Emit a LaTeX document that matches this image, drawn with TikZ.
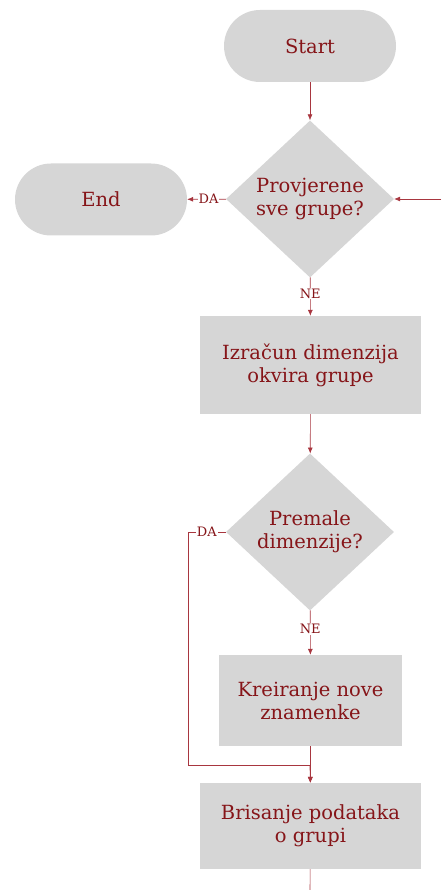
\documentclass[tikz,border=0pt]{standalone}
\usepackage{fontspec}
\setmainfont{DejaVu Serif}
\usetikzlibrary{shapes.geometric,arrows.meta}
\definecolor{boxgray}{HTML}{D6D6D6}
\definecolor{txtred}{HTML}{861519}
\definecolor{linered}{HTML}{A8363F}
\tikzset{
  x=1pt,y=-1pt,
  base/.style={fill=boxgray,draw=none,text=txtred,align=center,font=\fontsize{19.5}{23}\selectfont,inner sep=0pt},
  pill/.style={base,rectangle,rounded corners=36pt,minimum width=172pt,minimum height=72pt},
  procbox/.style={base,rectangle},
  decision/.style={base,diamond,minimum width=168pt,minimum height=157pt},
  conn/.style={draw=linered,line width=0.6pt,-{Latex[length=6pt,width=5pt]}},
  plainconn/.style={draw=linered,line width=0.6pt},
  lbl/.style={fill=white,text=txtred,font=\fontsize{13}{14}\selectfont,inner sep=1pt}
}
\begin{document}
\begin{tikzpicture}
\useasboundingbox (0,0) rectangle (441,890);
\node[pill] (start) at (310,46) {Start};
\node[decision] (d1) at (310,199) {Provjerene\\sve grupe?};
\node[pill] (end) at (101,199.5) {End};
\node[procbox,minimum width=221pt,minimum height=98pt] (b1) at (310.5,365) {Izračun dimenzija\\okvira grupe};
\node[decision] (d2) at (310,532) {Premale\\dimenzije?};
\node[procbox,minimum width=183pt,minimum height=91pt] (b2) at (310.5,700.5) {Kreiranje nove\\znamenke};
\node[procbox,minimum width=221pt,minimum height=86pt] (b3) at (310.5,826) {Brisanje podataka\\o grupi};
\coordinate (rin) at (441,199);
\coordinate (bout) at (310,890);
\coordinate (c1) at (188,532);
\coordinate (c2) at (188,765);
\coordinate (c3) at (310,765);

\draw[conn] (start) -- (d1);
\draw[conn] (rin) -- (d1);
\draw[conn] (d1) -- node[lbl,pos=0.45]{DA} (end);
\draw[conn] (d1) -- node[lbl,pos=0.42]{NE} (b1);
\draw[conn] (b1) -- (d2);
\draw[conn] (d2) -- node[lbl,pos=0.42]{NE} (b2);
\draw[conn] (b2) -- (b3);
\draw[plainconn] (d2.west) -- node[lbl,pos=0.5]{DA} (c1) -- (c2) -- (c3);
\draw[conn] (c3) -- (b3);
\draw[plainconn] (b3) -- (bout);
\end{tikzpicture}
\end{document}
